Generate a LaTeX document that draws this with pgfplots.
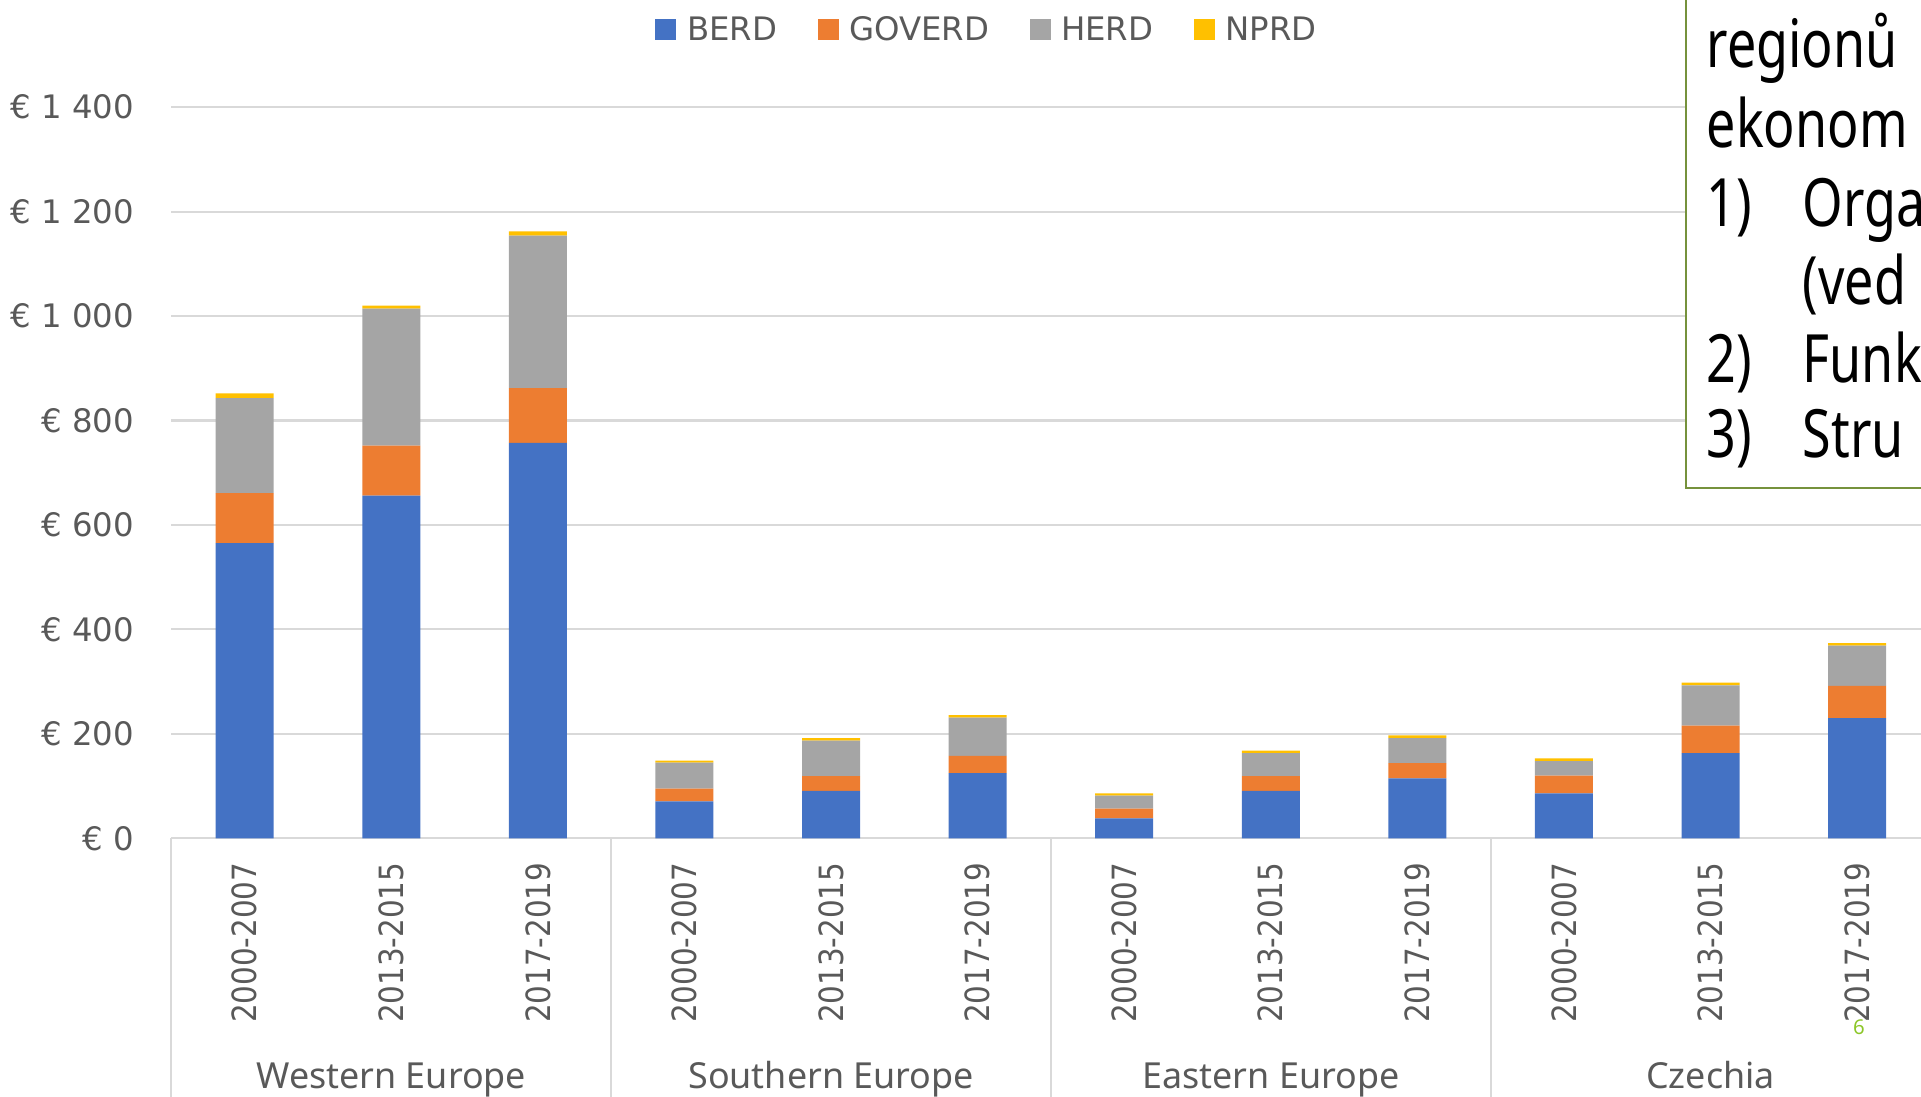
\documentclass[border=0pt]{standalone}
\usepackage{pgfplots}
\usepackage{pgfplotstable}
\pgfplotsset{compat=1.18}
\usepackage{fontspec}
\setmainfont{DejaVu Sans}
\newfontfamily\dejavu{DejaVu Sans}
\newfontfamily\dejavucond[FakeStretch=0.88]{DejaVu Sans}
\newfontfamily\noto{Noto Sans}
\definecolor{berd}{HTML}{4472C4}
\definecolor{goverd}{HTML}{ED7D31}
\definecolor{herd}{HTML}{A5A5A5}
\definecolor{nprd}{HTML}{FFC000}
\definecolor{txtgray}{HTML}{595959}
\definecolor{gridgray}{HTML}{D9D9D9}
\definecolor{boxgreen}{RGB}{118,146,60}
\definecolor{numgreen}{RGB}{140,198,40}
\newcommand{\tall}[1]{\scalebox{1}[1.28]{#1}}

\pgfplotstableread{
x BERD GOVERD HERD NPRD
1 565 96 182 9
2 656 96 262 6
3 757 105 292 8
4 71 24 50 4
5 91 28 68 5
6 125 33 73 5
7 38 19 25 4
8 91 28 44 5
9 115 29 48 5
10 86 34 28 5
11 163 53 77 5
12 230 62 77 5
}\datatable

\begin{document}
\begin{tikzpicture}[x=0.01cm,y=0.01cm]
\begin{axis}[
  at={(1.713cm,2.585cm)}, anchor=south west,
  scale only axis, width=17.58cm, height=7.308cm,
  xmin=0.5, xmax=12.5, ymin=0, ymax=1400,
  ybar stacked, bar width=0.58cm,
  clip=false,
  axis line style={draw=none},
  major tick length=0pt,
  ytick={0,200,...,1400},
  yticklabels={€ 0,€ 200,€ 400,€ 600,€ 800,€ 1 000,€ 1 200,€ 1 400},
  ymajorgrids, grid style={gridgray, line width=0.6pt},
  yticklabel style={font=\dejavu\fontsize{9.2}{11}\selectfont, text=txtgray, anchor=east, inner sep=0pt, xshift=-0.366cm},
  xtick={1,...,12},
  xticklabels={2000-2007,2013-2015,2017-2019,2000-2007,2013-2015,2017-2019,2000-2007,2013-2015,2017-2019,2000-2007,2013-2015,2017-2019},
  xticklabel style={yshift=-0.235cm, rotate=90, anchor=east, inner sep=0pt, font=\dejavucond\fontsize{9.5}{11}\selectfont, text=txtgray},
  legend columns=4,
  legend image code/.code={\fill[#1] (0cm,-0.09cm) rectangle (0.21cm,0.12cm);},
  legend style={at={(0.4651,1.104)}, anchor=center, draw=none, fill=none,
    font=\dejavu\fontsize{9.2}{11}\selectfont, text=txtgray, inner sep=0pt,
    /tikz/every odd column/.style={column sep=0.035cm},
    /tikz/every even column/.style={column sep=0.335cm}},
  legend cell align=left,
]
\addplot[fill=berd, draw=none] table[x=x, y=BERD] {\datatable};
\addlegendentry{BERD}
\addplot[fill=goverd, draw=none] table[x=x, y=GOVERD] {\datatable};
\addlegendentry{GOVERD}
\addplot[fill=herd, draw=none] table[x=x, y=HERD] {\datatable};
\addlegendentry{HERD}
\addplot[fill=nprd, draw=none] table[x=x, y=NPRD] {\datatable};
\addlegendentry{NPRD}
\draw[gridgray, line width=0.6pt] (axis cs:0.5,0) -- (axis cs:0.5,-520);
\draw[gridgray, line width=0.6pt] (axis cs:3.5,0) -- (axis cs:3.5,-520);
\draw[gridgray, line width=0.6pt] (axis cs:6.5,0) -- (axis cs:6.5,-520);
\draw[gridgray, line width=0.6pt] (axis cs:9.5,0) -- (axis cs:9.5,-520);
\draw[gridgray, line width=0.6pt] (axis cs:12.5,0) -- (axis cs:12.5,-520);
\node[anchor=base, font=\noto\fontsize{10.2}{12}\selectfont, text=txtgray] at (axis cs:2,-478) {Western Europe};
\node[anchor=base, font=\noto\fontsize{10.2}{12}\selectfont, text=txtgray] at (axis cs:5,-478) {Southern Europe};
\node[anchor=base, font=\noto\fontsize{10.2}{12}\selectfont, text=txtgray] at (axis cs:8,-478) {Eastern Europe};
\node[anchor=base, font=\noto\fontsize{10.2}{12}\selectfont, text=txtgray] at (axis cs:11,-478) {Czechia};
\end{axis}
% text box of the slide, cut by the edge of the picture
\draw[boxgreen, line width=0.6pt, fill=white] (1686,609) rectangle (1960,1120);
\begin{scope}[every node/.style={anchor=base west, inner sep=0pt, font=\noto\fontsize{14.8}{17}\selectfont}]
\node at (1706,1029) {\tall{regionů}};
\node at (1706,949) {\tall{ekonom}};
\node at (1706,870) {\tall{1)}};
\node at (1802,870) {\tall{Orga}};
\node at (1802,792) {\tall{(ved}};
\node at (1706,714) {\tall{2)}};
\node at (1802,714) {\tall{Funk}};
\node at (1706,639) {\tall{3)}};
\node at (1802,639) {\tall{Stru}};
\end{scope}
\node[font=\noto\fontsize{5.8}{7}\selectfont, text=numgreen, inner sep=0pt] at (1859,70) {6};
\pgfresetboundingbox
\path[use as bounding box] (0,0) rectangle (1921,1097);
\end{tikzpicture}
\end{document}
